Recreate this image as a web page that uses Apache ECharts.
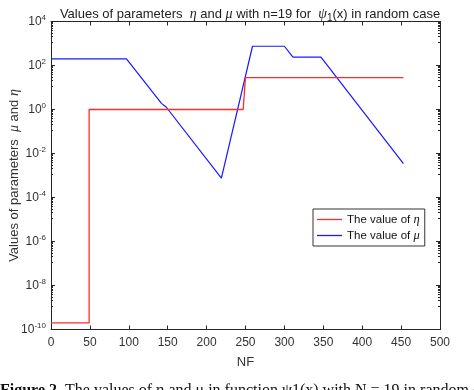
<!DOCTYPE html>
<html>
<head>
<meta charset="utf-8">
<script src="https://cdn.jsdelivr.net/npm/echarts@6/dist/echarts.min.js"></script>
<style>html,body{margin:0;padding:0;background:#fff;}#c{width:474px;height:390px;}</style>
</head>
<body>
<div id="c"></div>
<script>
// NF values and parameter values
const muX  = [0, 97, 142, 148, 219, 259, 300, 311, 347, 453];
const muY  = [200, 200, 1.9, 1.3, 7.6e-4, 750, 750, 240, 240, 0.0035];
const etaX = [0, 49, 49, 247, 250, 453];
const etaY = [2e-10, 2e-10, 1, 1, 28, 28];
const xTicks = [0, 50, 100, 150, 200, 250, 300, 350, 400, 450, 500];
const yExpTicks = [-10, -8, -6, -4, -2, 0, 2, 4];

const font = 'Liberation Sans, Arial, sans-serif';
const axisCol = '#262626';
const sup = {fontSize: 8, verticalAlign: 'bottom', padding: [0,0,8,0], color: '#333', fontFamily: font};

const chart = echarts.init(document.getElementById('c'));
function axisBase() {
  return {
    axisLine: {show: true, onZero: false, lineStyle: {color: axisCol, width: 1}},
    axisTick: {show: true, inside: true, length: 4, lineStyle: {color: axisCol}},
    splitLine: {show: false}
  };
}
chart.setOption({
  animation: false,
  backgroundColor: '#fff',
  title: {
    text: 'Values of parameters  {i|η} and {i|μ} with n=19 for  {i|ψ}{s|1}(x) in random case',
    left: 245, textAlign: 'center', top: 0,
    textStyle: {
      fontSize: 13, fontWeight: 'normal', color: '#222', fontFamily: font,
      rich: {
        i: {fontSize: 14, fontStyle: 'italic', fontFamily: 'Liberation Serif, serif', color: '#222'},
        s: {fontSize: 10, verticalAlign: 'top', padding: [8,0,0,0], color: '#222', fontFamily: font}
      }
    }
  },
  grid: {left: 51, right: 34, top: 21.5, bottom: 60.5, containLabel: false, outerBoundsMode: 'none'},
  legend: {
    orient: 'vertical', left: 313, top: 209,
    backgroundColor: '#fff', borderColor: '#333', borderWidth: 1,
    padding: [4, 5, 4, 4], itemGap: 3, itemWidth: 25, itemHeight: 1.3,
    icon: 'rect',
    textStyle: {fontSize: 11.5, color: '#111', fontFamily: font,
      rich: {i: {fontSize: 12.5, fontStyle: 'italic', fontFamily: 'Liberation Serif, serif', color: '#111'}}},
    formatter: n => n === 'eta' ? 'The value of {i|η}' : 'The value of {i|μ}',
    data: ['eta', 'mu']
  },
  xAxis: [
    Object.assign(axisBase(), {
      type: 'value', min: 0, max: 500, interval: 50, position: 'bottom',
      name: 'NF', nameLocation: 'middle', nameGap: 26, nameMoveOverlap: false,
      nameTextStyle: {fontSize: 13, color: '#333', fontFamily: font},
      axisLabel: {fontSize: 12, color: '#333', fontFamily: font, margin: 7,
        formatter: v => xTicks.includes(v) ? String(v) : ''}
    }),
    Object.assign(axisBase(), {
      type: 'value', min: 0, max: 500, interval: 50, position: 'top',
      axisLabel: {show: false}
    })
  ],
  yAxis: [
    Object.assign(axisBase(), {
      type: 'log', logBase: 10, min: 1e-10, max: 1e4, interval: 2, position: 'left',
      minorTick: {show: true, splitNumber: 10, length: 2, lineStyle: {color: axisCol}},
      name: 'Values of parameters  {i|μ} and {i|η}', nameLocation: 'middle', nameGap: 30, nameRotate: 90,
      nameMoveOverlap: false,
      nameTextStyle: {fontSize: 13, color: '#333', fontFamily: font,
        rich: {i: {fontSize: 14, fontStyle: 'italic', fontFamily: 'Liberation Serif, serif', color: '#333'}}},
      axisLabel: {fontSize: 12, color: '#333', fontFamily: font, margin: 5,
        formatter: v => {
          const e = Math.round(Math.log10(v));
          return yExpTicks.includes(e) ? '10{s|' + e + '}' : '';
        },
        rich: {s: sup}}
    }),
    Object.assign(axisBase(), {
      type: 'log', logBase: 10, min: 1e-10, max: 1e4, interval: 2, position: 'right',
      minorTick: {show: true, splitNumber: 10, length: 2, lineStyle: {color: axisCol}},
      axisLabel: {show: false}
    })
  ],
  series: [
    {
      name: 'eta', type: 'line', xAxisIndex: 0, yAxisIndex: 0, z: 3,
      data: etaX.map((x, i) => [x, etaY[i]]),
      symbol: 'none', lineStyle: {color: '#ff2a2a', width: 1.3}, itemStyle: {color: '#ff2a2a'}
    },
    {
      name: 'mu', type: 'line', xAxisIndex: 0, yAxisIndex: 0, z: 2,
      data: muX.map((x, i) => [x, muY[i]]),
      symbol: 'none', lineStyle: {color: '#1818ff', width: 1.2}, itemStyle: {color: '#1818ff'}
    }
  ],
  graphic: [{
    type: 'text', left: 0, top: 383,
    style: {
      text: '{b|Figure 2.} The values of η and μ in function ψ1(x) with N = 19 in random case',
      fontSize: 16, fontFamily: 'Liberation Serif, serif', fill: '#111',
      rich: {b: {fontWeight: 'bold', fontSize: 16, fontFamily: 'Liberation Serif, serif', fill: '#111'}}
    }
  }]
});
</script>
</body>
</html>
